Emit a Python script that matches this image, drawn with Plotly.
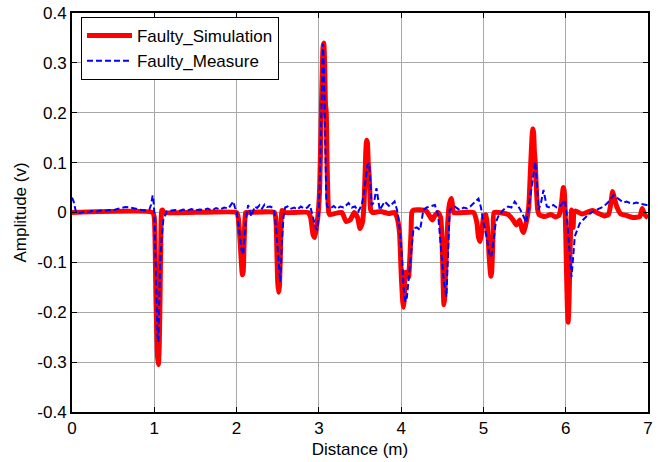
import plotly.graph_objects as go

# Simulated fault response (distance in m, amplitude in V)
sim_distance = [
    0.00, 0.98, 1.00, 1.01, 1.02, 1.03, 1.04, 1.05, 1.06, 1.07, 1.08, 1.09, 1.10, 1.12,
    2.00, 2.02, 2.04, 2.06, 2.07, 2.08, 2.09, 2.10, 2.11, 2.13,
    2.46, 2.48, 2.49, 2.50, 2.51, 2.52, 2.53, 2.54, 2.55, 2.57, 2.59,
    2.87, 2.90, 2.93, 2.95, 2.97, 2.99, 3.01, 3.03, 3.05, 3.06, 3.07, 3.08, 3.09, 3.10, 3.11, 3.12, 3.13,
    3.28, 3.33, 3.38, 3.43, 3.47, 3.50, 3.53, 3.55, 3.57, 3.58, 3.59, 3.60, 3.61, 3.62, 3.63, 3.65,
    3.75, 3.85, 3.92, 3.95, 3.98, 4.00, 4.02, 4.03, 4.04, 4.05, 4.07, 4.09, 4.10, 4.12, 4.13, 4.15,
    4.30, 4.35, 4.38, 4.41, 4.45, 4.48, 4.50, 4.51, 4.52, 4.53, 4.54, 4.56, 4.58, 4.60, 4.61, 4.62, 4.64,
    4.88, 4.92, 4.94, 4.96, 4.98, 5.00, 5.02, 5.03, 5.05, 5.07, 5.09, 5.10, 5.11, 5.12, 5.13,
    5.30, 5.36, 5.40, 5.44, 5.47, 5.49, 5.52, 5.55, 5.57, 5.59, 5.60, 5.61, 5.62, 5.63, 5.64, 5.66, 5.68,
    5.75, 5.82, 5.88, 5.92, 5.95, 5.97, 5.98, 5.99, 6.00, 6.01, 6.02, 6.03, 6.04, 6.05, 6.06, 6.07, 6.08, 6.09, 6.10, 6.12,
    6.20, 6.27, 6.33, 6.40, 6.47, 6.52, 6.55, 6.57, 6.59, 6.62, 6.67, 6.74, 6.82, 6.90, 6.93, 6.96, 7.00,
]
sim_amplitude = [
    0.000, 0.000, -0.010, -0.060, -0.170, -0.240, -0.290, -0.305, -0.270, -0.170, -0.050, 0.004, 0.005, 0.000,
    0.000, -0.010, -0.050, -0.105, -0.125, -0.120, -0.070, -0.020, 0.000, 0.000,
    0.000, -0.020, -0.080, -0.140, -0.160, -0.150, -0.100, -0.030, 0.004, 0.003, 0.000,
    0.000, -0.010, -0.045, -0.050, -0.030, -0.005, 0.050, 0.200, 0.330, 0.340, 0.300, 0.220, 0.200, 0.100, 0.030, 0.000, -0.004,
    0.000, -0.018, -0.015, 0.000, -0.010, -0.032, -0.020, 0.020, 0.120, 0.145, 0.140, 0.100, 0.080, 0.040, 0.005, 0.000,
    0.002, -0.002, 0.000, -0.010, -0.040, -0.120, -0.180, -0.190, -0.170, -0.120, -0.120, -0.130, -0.110, -0.040, 0.000, 0.005,
    0.004, -0.008, -0.015, -0.006, 0.000, -0.010, -0.070, -0.140, -0.185, -0.170, -0.120, -0.040, 0.010, 0.025, 0.028, 0.020, 0.000,
    0.000, -0.020, -0.050, -0.058, -0.040, -0.010, -0.005, -0.005, -0.030, -0.090, -0.128, -0.120, -0.080, -0.030, 0.000,
    -0.004, -0.015, -0.025, -0.015, -0.035, -0.040, -0.020, 0.010, 0.080, 0.150, 0.168, 0.160, 0.120, 0.100, 0.060, 0.005, -0.005,
    -0.008, -0.004, -0.009, -0.005, 0.020, 0.050, 0.045, 0.020, -0.040, -0.120, -0.190, -0.220, -0.180, -0.100, -0.030, 0.005, -0.020, -0.030, 0.000, 0.003,
    -0.003, 0.001, 0.004, -0.002, -0.007, -0.004, 0.020, 0.042, 0.030, 0.012, -0.003, -0.006, -0.010, -0.008, 0.008, -0.004, -0.011,
]

# Measured fault response
meas_distance = [
    0.00, 0.02, 0.05, 0.10, 0.15, 0.20, 0.25, 0.30, 0.35, 0.40, 0.45, 0.50, 0.55, 0.60, 0.65, 0.70,
    0.75, 0.80, 0.85, 0.90, 0.94, 0.96, 0.98, 0.99, 1.00, 1.01, 1.02, 1.03, 1.04, 1.05, 1.06, 1.07,
    1.09, 1.11, 1.15, 1.20, 1.25, 1.30, 1.35, 1.40, 1.45, 1.50, 1.55, 1.60, 1.65, 1.70, 1.75, 1.80,
    1.85, 1.90, 1.93, 1.96, 1.98, 2.00, 2.02, 2.04, 2.06, 2.08, 2.09, 2.11, 2.13, 2.14, 2.18, 2.22,
    2.25, 2.28, 2.31, 2.34, 2.37, 2.41, 2.44, 2.46, 2.48, 2.50, 2.52, 2.53, 2.54, 2.55, 2.57, 2.59,
    2.62, 2.65, 2.70, 2.74, 2.78, 2.82, 2.86, 2.89, 2.93, 2.96, 2.98, 3.00, 3.02, 3.04, 3.05, 3.06,
    3.07, 3.08, 3.09, 3.10, 3.14, 3.18, 3.22, 3.26, 3.30, 3.33, 3.36, 3.40, 3.44, 3.48, 3.52, 3.54,
    3.57, 3.59, 3.61, 3.62, 3.64, 3.67, 3.70, 3.74, 3.80, 3.86, 3.92, 3.95, 3.98, 4.01, 4.03, 4.05,
    4.07, 4.09, 4.12, 4.15, 4.19, 4.23, 4.27, 4.31, 4.35, 4.41, 4.45, 4.49, 4.52, 4.55, 4.57, 4.59,
    4.65, 4.71, 4.76, 4.80, 4.84, 4.88, 4.94, 4.97, 5.00, 5.04, 5.08, 5.10, 5.12, 5.15, 5.18, 5.24,
    5.30, 5.34, 5.38, 5.44, 5.48, 5.52, 5.55, 5.59, 5.63, 5.65, 5.67, 5.70, 5.73, 5.77, 5.81, 5.85,
    5.89, 5.93, 5.99, 6.01, 6.03, 6.05, 6.07, 6.09, 6.11, 6.17, 6.25, 6.33, 6.42, 6.46, 6.50, 6.54,
    6.58, 6.62, 6.66, 6.70, 6.74, 6.78, 6.82, 6.86, 6.90, 6.94, 6.98, 7.00,
]
meas_amplitude = [
    0.030, 0.022, 0.000, -0.001, 0.002, 0.001, 0.003, 0.002, 0.004, 0.003, 0.005, 0.004, 0.007, 0.009, 0.011, 0.010,
    0.008, 0.006, 0.005, 0.004, 0.006, 0.015, 0.034, 0.025, 0.000, -0.060, -0.140, -0.200, -0.250, -0.260, -0.180, -0.105,
    -0.050, -0.015, 0.002, 0.003, 0.005, 0.003, 0.006, 0.004, 0.007, 0.004, 0.006, 0.005, 0.008, 0.004, 0.009, 0.006,
    0.010, 0.008, 0.015, 0.022, 0.010, 0.002, -0.020, -0.050, -0.075, -0.085, -0.060, -0.020, 0.003, 0.015, -0.008, 0.012,
    0.009, 0.015, 0.008, 0.016, 0.011, 0.012, 0.009, 0.000, -0.030, -0.080, -0.130, -0.139, -0.110, -0.060, -0.010, 0.010,
    0.012, 0.007, 0.010, 0.006, 0.012, 0.008, 0.010, 0.016, -0.010, -0.030, -0.035, 0.000, 0.120, 0.300, 0.339, 0.300,
    0.200, 0.100, 0.030, 0.012, 0.008, 0.013, 0.007, 0.012, 0.010, 0.014, 0.019, 0.010, 0.012, 0.002, 0.015, 0.030,
    0.070, 0.095, 0.099, 0.080, 0.015, 0.020, 0.049, 0.005, 0.022, 0.012, 0.022, 0.005, -0.030, -0.090, -0.150, -0.179,
    -0.170, -0.135, -0.080, -0.032, -0.030, -0.035, 0.005, 0.010, 0.012, 0.015, -0.005, -0.080, -0.140, -0.169, -0.090, 0.005,
    0.012, 0.005, 0.010, 0.008, 0.012, 0.018, 0.028, 0.010, -0.020, -0.050, -0.089, -0.085, -0.055, -0.020, -0.008, 0.005,
    0.012, 0.010, 0.022, 0.008, -0.005, -0.020, 0.010, 0.058, 0.102, 0.060, 0.005, 0.020, 0.045, 0.012, 0.010, 0.015,
    0.010, 0.012, 0.025, 0.000, -0.040, -0.090, -0.129, -0.090, -0.048, -0.022, -0.008, 0.002, 0.008, 0.012, 0.018, 0.025,
    0.035, 0.030, 0.025, 0.020, 0.022, 0.019, 0.018, 0.020, 0.018, 0.016, 0.015, 0.015,
]

x_ticks = [0, 1, 2, 3, 4, 5, 6, 7]
x_tick_labels = ["0", "1", "2", "3", "4", "5", "6", "7"]
y_ticks = [-0.4, -0.3, -0.2, -0.1, 0.0, 0.1, 0.2, 0.3, 0.4]
y_tick_labels = ["-0.4", "-0.3", "-0.2", "-0.1", "0", "0.1", "0.2", "0.3", "0.4"]

FONT = "Liberation Sans, Arial, sans-serif"
FS = 17

fig = go.Figure()
fig.add_trace(go.Scatter(
    x=sim_distance, y=sim_amplitude, mode="lines", name="Faulty_Simulation",
    line=dict(color="#ff0000", width=5, shape="spline", smoothing=0.5),
))
fig.add_trace(go.Scatter(
    x=meas_distance, y=meas_amplitude, mode="lines", name="Faulty_Measure",
    line=dict(color="#0000ff", width=2, dash="6px,3px"),
))

axis_common = dict(
    showline=True, linecolor="black", linewidth=2, mirror="ticks",
    ticks="inside", ticklen=5, tickcolor="black", tickwidth=1,
    showgrid=True, gridcolor="#a8a8a8", gridwidth=1,
    zeroline=False, automargin=False,
    tickfont=dict(family=FONT, size=FS, color="black"),
)

fig.update_layout(
    width=664, height=462,
    margin=dict(l=72, r=16, t=13, b=50),
    paper_bgcolor="white", plot_bgcolor="white",
    font=dict(family=FONT, size=FS, color="black"),
    xaxis=dict(
        range=[0, 7], tickvals=x_ticks, ticktext=x_tick_labels,
        title=dict(text="Distance (m)", font=dict(family=FONT, size=FS), standoff=6),
        **axis_common,
    ),
    yaxis=dict(
        range=[-0.4, 0.4], tickvals=y_ticks, ticktext=y_tick_labels,
        title=dict(text="Amplitude (v)", font=dict(family=FONT, size=FS), standoff=6),
        **axis_common,
    ),
    legend=dict(
        x=0.0156, y=0.99, xanchor="left", yanchor="top",
        bgcolor="white", bordercolor="black", borderwidth=1,
        font=dict(family=FONT, size=FS, color="black"),
        tracegroupgap=0, itemwidth=45,
    ),
    showlegend=True,
)

fig.write_html("out.html")
